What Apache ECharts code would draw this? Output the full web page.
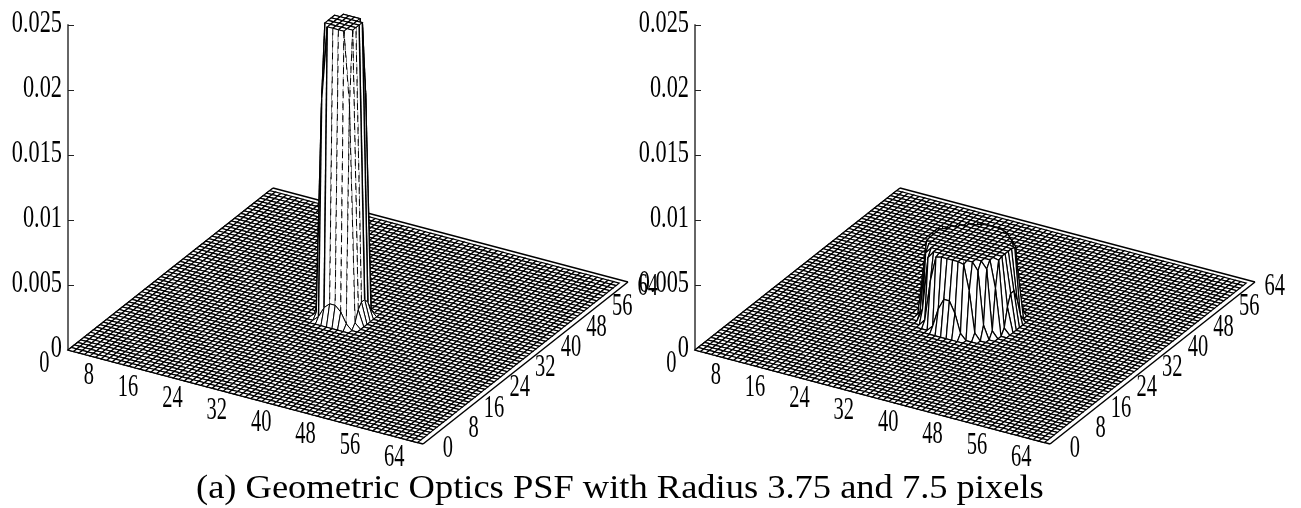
<!DOCTYPE html>
<html><head><meta charset="utf-8">
<script src="https://cdn.jsdelivr.net/npm/echarts@6/dist/echarts.min.js"></script>
<style>html,body{margin:0;padding:0;background:#fff}#c{width:1301px;height:508px}</style></head>
<body><div id="c"></div>
<script>
const caption = '(a) Geometric Optics PSF with Radius 3.75 and 7.5 pixels';
const zTicks = [0, 0.005, 0.01, 0.015, 0.02, 0.025];
const zTickLabels = ['0', '0.005', '0.01', '0.015', '0.02', '0.025'];
const baseTicks = [0, 8, 16, 24, 32, 40, 48, 56, 64];
const meshSize = 64;

// non-zero sample heights of each PSF, read as rows from sample index patchStart
const patchStartLeft = 28;
const psfLeft = [
  [0, .0004, .0012, .0016, .0016, .0012, .0004, 0],
  [.0004, .0170, .0226, .0226, .0226, .0226, .0170, .0004],
  [.0012, .0226, .0226, .0226, .0226, .0226, .0226, .0012],
  [.0016, .0226, .0226, .0226, .0226, .0226, .0226, .0016],
  [.0016, .0226, .0226, .0226, .0226, .0226, .0226, .0016],
  [.0012, .0226, .0226, .0226, .0226, .0226, .0226, .0012],
  [.0004, .0170, .0226, .0226, .0226, .0226, .0170, .0004],
  [0, .0004, .0012, .0016, .0016, .0012, .0004, 0]
];
const patchStartRight = 24;
const psfRight = [
  [0,0,0,0,0,.00045,.00187,.00272,.00272,.00187,.00045,0,0,0,0,0],
  [0,0,0,.00051,.00362,.00555,.00566,.00566,.00566,.00566,.00555,.00362,.00051,0,0,0],
  [0,0,.00102,.00509,.00566,.00566,.00566,.00566,.00566,.00566,.00566,.00566,.00509,.00102,0,0],
  [0,.00051,.00515,.00566,.00566,.00566,.00566,.00566,.00566,.00566,.00566,.00566,.00566,.00515,.00051,0],
  [0,.00357,.00566,.00566,.00566,.00566,.00566,.00566,.00566,.00566,.00566,.00566,.00566,.00566,.00357,0],
  [.00045,.00555,.00566,.00566,.00566,.00566,.00566,.00566,.00566,.00566,.00566,.00566,.00566,.00566,.00555,.00045],
  [.00187,.00566,.00566,.00566,.00566,.00566,.00566,.00566,.00566,.00566,.00566,.00566,.00566,.00566,.00566,.00187],
  [.00272,.00566,.00566,.00566,.00566,.00566,.00566,.00566,.00566,.00566,.00566,.00566,.00566,.00566,.00566,.00272],
  [.00272,.00566,.00566,.00566,.00566,.00566,.00566,.00566,.00566,.00566,.00566,.00566,.00566,.00566,.00566,.00272],
  [.00187,.00566,.00566,.00566,.00566,.00566,.00566,.00566,.00566,.00566,.00566,.00566,.00566,.00566,.00566,.00187],
  [.00045,.00555,.00566,.00566,.00566,.00566,.00566,.00566,.00566,.00566,.00566,.00566,.00566,.00566,.00555,.00045],
  [0,.00357,.00566,.00566,.00566,.00566,.00566,.00566,.00566,.00566,.00566,.00566,.00566,.00566,.00357,0],
  [0,.00051,.00515,.00566,.00566,.00566,.00566,.00566,.00566,.00566,.00566,.00566,.00566,.00515,.00051,0],
  [0,0,.00102,.00509,.00566,.00566,.00566,.00566,.00566,.00566,.00566,.00566,.00509,.00102,0,0],
  [0,0,0,.00051,.00362,.00555,.00566,.00566,.00566,.00566,.00555,.00362,.00051,0,0,0],
  [0,0,0,0,0,.00045,.00187,.00272,.00272,.00187,.00045,0,0,0,0,0]
];

// projection of the 3-D box onto the page
const ORIGIN_Y = 350, Z_TOP = 25, Z_MAX = 0.025;
const PX_Z = (ORIGIN_Y - Z_TOP) / Z_MAX;
const OX = [68, 695];
const AX = 5.547, AY = 1.469, BX = 3.203, BY = -2.531;
const project = (p, i, j, z) => [OX[p] + AX * i + BX * j, ORIGIN_Y + AY * i + BY * j - PX_Z * z];

function cells(patch, start) {
  const h = (i, j) => {
    const r = patch[j - start];
    const v = r ? r[i - start] : 0;
    return v === undefined ? 0 : v;
  };
  const out = [];
  for (let j = meshSize - 2; j >= 0; j--) {
    for (let i = 0; i < meshSize - 1; i++) {
      out.push([i, j, h(i, j), h(i + 1, j), h(i + 1, j + 1), h(i, j + 1)]);
    }
  }
  return out;
}

const MESH_W = 1.2;
function surface(p, dashed) {
  return function (params, api) {
    const i = api.value(0), j = api.value(1);
    const a = api.coord(project(p, i, j, api.value(2)));
    const b = api.coord(project(p, i + 1, j, api.value(3)));
    const c = api.coord(project(p, i + 1, j + 1, api.value(4)));
    const d = api.coord(project(p, i, j + 1, api.value(5)));
    const poly = [a, b, c, d];
    const flat = api.value(2) === api.value(3) && api.value(3) === api.value(4) && api.value(4) === api.value(5);
    if (flat || !dashed) {
      return { type: 'polygon', shape: { points: poly }, style: { fill: '#fff', stroke: '#000', lineWidth: MESH_W } };
    }
    const kids = [{ type: 'polygon', shape: { points: poly }, style: { fill: '#fff', stroke: null } }];
    for (let k = 0; k < 4; k++) {
      const s = poly[k], e = poly[(k + 1) % 4];
      const steep = Math.abs(s[1] - e[1]) > 40;
      const outer = Math.max(s[0], e[0]) < OX[p] + 261 || Math.min(s[0], e[0]) > OX[p] + 291;
      kids.push({
        type: 'line',
        shape: { x1: s[0], y1: s[1], x2: e[0], y2: e[1] },
        style: { stroke: '#000', lineWidth: steep && outer ? 1.4 : 1, lineDash: steep && !outer ? [7, 5] : null }
      });
    }
    return { type: 'group', children: kids };
  };
}

function box(p) {
  return function (params, api) {
    const s = api.coord(project(p, api.value(0), api.value(1), 0));
    const e = api.coord(project(p, api.value(2), api.value(3), 0));
    return { type: 'line', shape: { x1: s[0], y1: s[1], x2: e[0], y2: e[1] }, style: { stroke: '#000', lineWidth: 1.5 } };
  };
}
const boxEdges = [[0, 0, 64, 0], [64, 0, 64, 64], [64, 64, 0, 64], [0, 64, 0, 0]];

const FONT = '"Liberation Serif", serif';
function label(pt, text, scaleX, align) {
  return {
    type: 'text', x: pt[0], y: pt[1], scaleX: scaleX,
    style: { text: text, fill: '#000', font: '31px ' + FONT, textAlign: align, textVerticalAlign: 'middle' }
  };
}
function xLabels(p) {
  return (params, api) => {
    const t = api.value(0), q = project(p, t, 0, 0);
    return label(api.coord([q[0] - 18.5, q[1] + 14]), String(t), 0.66, 'right');
  };
}
function yLabels(p) {
  return (params, api) => {
    const t = api.value(0), q = project(p, 64, t, 0);
    return label(api.coord([q[0] + 30, q[1] + 5]), String(t), 0.66, 'right');
  };
}
function zLabels(p) {
  return (params, api) => {
    const i = api.value(0);
    const q = project(p, 0, 0, zTicks[i]);
    return label(api.coord([q[0] - 6, q[1] - 1]), zTickLabels[i], 0.72, 'right');
  };
}

const page = { xAxisIndex: 2, yAxisIndex: 2, coordinateSystem: 'cartesian2d', type: 'custom', silent: true, clip: false, animation: false, progressive: 0 };
const series = [];
[[psfLeft, patchStartLeft, true], [psfRight, patchStartRight, false]].forEach(([patch, start, dashed], p) => {
  series.push(Object.assign({}, page, { name: 'box' + p, renderItem: box(p), data: boxEdges, z: 2 }));
  series.push(Object.assign({}, page, { name: 'psf' + p, renderItem: surface(p, dashed), data: cells(patch, start), z: 3 }));
  series.push(Object.assign({}, page, { name: 'x' + p, renderItem: xLabels(p), data: baseTicks.map(v => [v]), encode: { x: 0 }, z: 5 }));
  series.push(Object.assign({}, page, { name: 'y' + p, renderItem: yLabels(p), data: baseTicks.map(v => [v]), encode: { x: 0 }, z: 5 }));
  series.push(Object.assign({}, page, { name: 'z' + p, renderItem: zLabels(p), data: zTicks.map((v, i) => [i]), encode: { x: 0 }, z: 5 }));
});

const zAxis = g => ({
  type: 'value', gridIndex: g, min: 0, max: Z_MAX, interval: 0.005,
  axisLine: { show: true, onZero: false, lineStyle: { color: '#666', width: 2 } },
  axisTick: { show: true, inside: true, length: 6, lineStyle: { color: '#222', width: 1 } },
  axisLabel: { show: false }, splitLine: { show: false }
});
const hiddenX = g => ({ type: 'value', gridIndex: g, min: 0, max: 1, show: false });

const chart = echarts.init(document.getElementById('c'), null, { renderer: 'canvas' });
chart.setOption({
  animation: false,
  backgroundColor: '#fff',
  graphic: [{
    type: 'text', x: 196, y: 489, scaleX: 1.105, z: 10, silent: true,
    style: { text: caption, fill: '#000', font: '33px ' + FONT, textAlign: 'left', textVerticalAlign: 'middle' }
  }],
  grid: [
    { left: OX[0], top: Z_TOP, width: 1, height: ORIGIN_Y - Z_TOP },
    { left: OX[1], top: Z_TOP, width: 1, height: ORIGIN_Y - Z_TOP },
    { left: 0, top: 0, width: 1301, height: 508 }
  ],
  xAxis: [hiddenX(0), hiddenX(1), { type: 'value', gridIndex: 2, min: 0, max: 1301, show: false }],
  yAxis: [zAxis(0), zAxis(1), { type: 'value', gridIndex: 2, min: 0, max: 508, inverse: true, show: false }],
  series: series
});
</script></body></html>
